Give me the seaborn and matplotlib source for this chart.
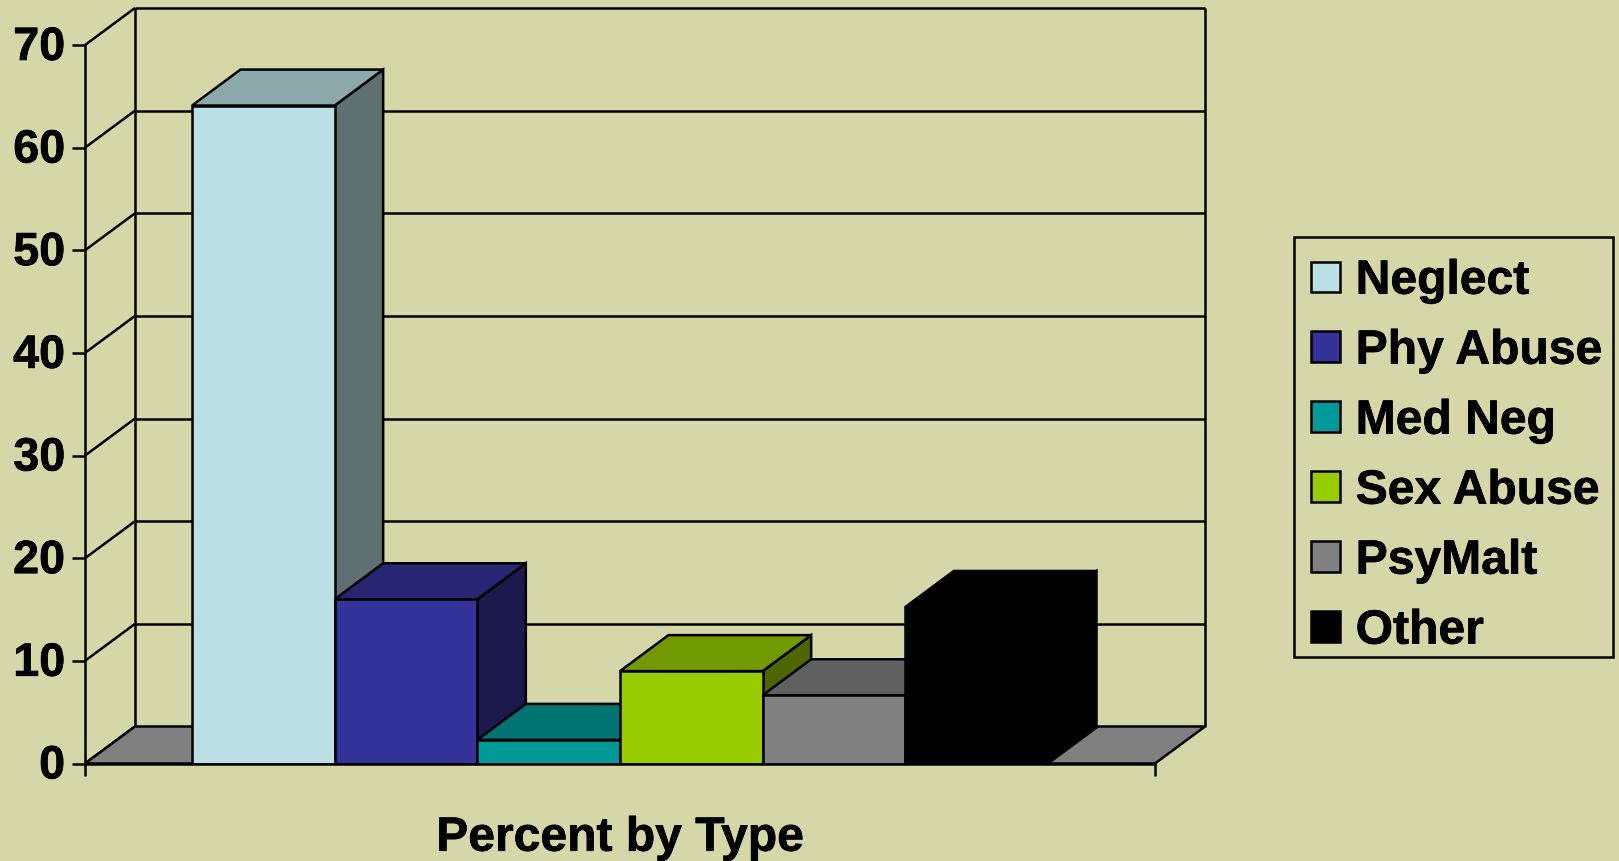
import matplotlib
matplotlib.use("Agg")
import matplotlib.pyplot as plt
import matplotlib.patheffects as pe
import pandas as pd
import seaborn as sns
from matplotlib.patches import Patch, Polygon, Rectangle
from matplotlib.transforms import ScaledTranslation

types = ["Neglect", "Phy Abuse", "Med Neg", "Sex Abuse", "PsyMalt", "Other"]
percent = [64.1, 16.0, 2.3, 9.0, 6.65, 15.25]
front_colors = ["#BBE0E3", "#333399", "#009999", "#99CC00", "#808080", "#000000"]
top_colors = ["#8CA8AA", "#262673", "#007373", "#739900", "#606060", "#000000"]
side_colors = ["#5E7072", "#1A1A4D", "#004D4D", "#4D6600", "#404040", "#000000"]
y_ticks = [0, 10, 20, 30, 40, 50, 60, 70]

BG = "#D6D7A9"
W, H = 1619, 862
AX_L, AX_R, AX_T, AX_B = 85, 1155, 46, 764.5
LW = 1.8
FONT = 34.6

sns.set_theme(style="white")
plt.rcParams["font.family"] = ["Liberation Sans", "DejaVu Sans"]
plt.rcParams["font.weight"] = "bold"

fig = plt.figure(figsize=(W / 100, H / 100), dpi=100, facecolor=BG)
ax = fig.add_axes([AX_L / W, 1 - AX_B / H, (AX_R - AX_L) / W, (AX_B - AX_T) / H], facecolor="none")

df = pd.DataFrame({"group": ["Percent by Type"] * len(types), "type": types, "percent": percent})
sns.barplot(data=df, x="group", y="percent", hue="type", hue_order=types, palette=front_colors,
            saturation=1, width=0.8, gap=0, edgecolor="black", linewidth=LW, errorbar=None,
            legend=False, ax=ax)

ax.set_xlim(-0.5, 0.5)
ax.set_ylim(0, 70)

# depth of the fake 3d box, in data units
x_per_px = 1 / (AX_R - AX_L)
y_per_px = 70 / (AX_B - AX_T)
wall_dx, wall_dy = 50 * x_per_px, 37 * y_per_px
bar_dx, bar_dy = 48.5 * x_per_px, 36 * y_per_px


def poly(pts, color, z, edge="black"):
    ax.add_patch(Polygon(pts, closed=True, facecolor=color, edgecolor=edge, linewidth=LW,
                         joinstyle="miter", clip_on=False, zorder=z))


def line(xs, ys, z=1):
    ax.plot(xs, ys, color="black", lw=LW, clip_on=False, zorder=z, solid_capstyle="butt")


# walls and grid
for t in y_ticks:
    line([-0.5, -0.5 + wall_dx], [t, t + wall_dy])
    if t > 0:
        line([-0.5 + wall_dx, 0.5 + wall_dx], [t + wall_dy, t + wall_dy])
line([-0.5 + wall_dx] * 2, [wall_dy, 70 + wall_dy])
line([0.5 + wall_dx] * 2, [wall_dy, 70 + wall_dy])
poly([(-0.5, 0), (0.5, 0), (0.5 + wall_dx, wall_dy), (-0.5 + wall_dx, wall_dy)], "#808080", 1.5)

# bars: side and top behind each front, later bars cover earlier ones
for i, container in enumerate(ax.containers):
    bar = container[0]
    x0, x1, v = bar.get_x(), bar.get_x() + bar.get_width(), bar.get_height()
    z = 3 + i
    poly([(x1, 0), (x1 + bar_dx, bar_dy), (x1 + bar_dx, v + bar_dy), (x1, v)], side_colors[i], z)
    poly([(x0, v), (x1, v), (x1 + bar_dx, v + bar_dy), (x0 + bar_dx, v + bar_dy)], top_colors[i], z)
    bar.set_zorder(z + 0.5)

for s in ["top", "right"]:
    ax.spines[s].set_visible(False)
for s in ["left", "bottom"]:
    ax.spines[s].set_linewidth(LW)
    ax.spines[s].set_color("black")
    ax.spines[s].set_zorder(20)

ax.set_yticks(y_ticks)
ax.set_xticks([-0.5, 0.5], ["", ""])
ax.tick_params(axis="y", length=9.4, width=LW, color="black", labelsize=33.6, pad=5, left=True,
               labelcolor="black")
ax.tick_params(axis="x", length=8.6, width=LW, color="black", bottom=True)
ax.set_ylabel("")
ax.set_xlabel("Percent by Type", fontsize=FONT, fontweight="bold", color="black", labelpad=25.5)

# tick labels sit a little above their ticks in the original
up = ScaledTranslation(0, 1.5 / 72, fig.dpi_scale_trans)
for label in ax.get_yticklabels():
    label.set_transform(label.get_transform() + up)

# legend box is not centred on its rows in the original, so frame drawn apart
fig.add_artist(Rectangle((1294 / W, 1 - 658 / H), 319 / W, 420 / H, transform=fig.transFigure,
                         facecolor="none", edgecolor="black", linewidth=LW))
handles = [Patch(facecolor=c, edgecolor="black", linewidth=LW) for c in front_colors]
leg = fig.legend(handles, types, loc="upper left",
                 bbox_to_anchor=(1310.5 / W, 1 - 259.7 / H), bbox_transform=fig.transFigure,
                 borderaxespad=0, fontsize=FONT, frameon=False,
                 handlelength=0.62, handleheight=0.6, handletextpad=0.32, labelspacing=0.52,
                 borderpad=0, labelcolor="black")

thick = [pe.withStroke(linewidth=0.5, foreground="black")]
for txt in ax.get_yticklabels() + [ax.xaxis.label] + leg.get_texts():
    txt.set_path_effects(thick)

fig.savefig("out.png", dpi=100, facecolor=BG)
